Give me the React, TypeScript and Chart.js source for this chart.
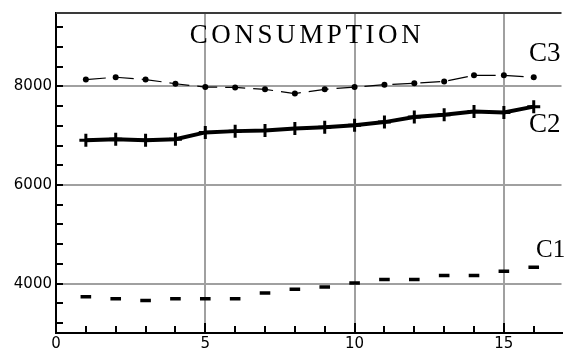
import React, { useEffect, useRef } from "react";
import { Chart, registerables } from "chart.js";

Chart.register(...registerables);

const xValues = [1, 2, 3, 4, 5, 6, 7, 8, 9, 10, 11, 12, 13, 14, 15, 16];
const c1Values = [3736, 3696, 3657, 3696, 3696, 3696, 3810, 3889, 3935, 4014, 4087, 4087, 4167, 4167, 4252, 4331];
const c2Values = [6909, 6929, 6909, 6929, 7067, 7093, 7107, 7147, 7173, 7212, 7276, 7379, 7425, 7490, 7470, 7589];
const c3Values = [8139, 8185, 8139, 8054, 7986, 7980, 7940, 7855, 7940, 7986, 8034, 8065, 8100, 8224, 8224, 8185];
const xTickValues = [0, 5, 10, 15];
const yTickValues = [4000, 6000, 8000];
const xMinorStep = 1;
const yMinorStep = 400;
const titleText = "CONSUMPTION";
const seriesNames = ["C1", "C2", "C3"];

const toPoints = (vals: number[]) => xValues.map((x, i) => ({ x, y: vals[i] }));

const decorPlugin = {
  id: "decor",
  beforeDatasetsDraw(chart: any) {
    const { ctx, chartArea, scales } = chart;
    const xs = scales.x;
    const ys = scales.y;
    ctx.save();
    ctx.strokeStyle = "#3a3a3a";
    ctx.lineWidth = 2;
    ctx.beginPath();
    ctx.moveTo(chartArea.left, chartArea.top);
    ctx.lineTo(chartArea.right, chartArea.top);
    ctx.stroke();
    ctx.strokeStyle = "#000";
    ctx.lineWidth = 2;
    ctx.beginPath();
    for (let v = xMinorStep; v <= xs.max; v += xMinorStep) {
      const px = Math.round(xs.getPixelForValue(v));
      const len = v % 5 === 0 ? 10 : 7;
      ctx.moveTo(px, chartArea.bottom);
      ctx.lineTo(px, chartArea.bottom - len);
    }
    for (let v = Math.ceil(ys.min / yMinorStep) * yMinorStep; v <= ys.max; v += yMinorStep) {
      if (v === ys.min) continue;
      const py = Math.round(ys.getPixelForValue(v));
      ctx.moveTo(chartArea.left, py);
      ctx.lineTo(chartArea.left + 7, py);
    }
    ctx.stroke();
    ctx.restore();
  },
  afterDraw(chart: any) {
    const { ctx } = chart;
    ctx.save();
    ctx.fillStyle = "#000";
    ctx.textBaseline = "alphabetic";
    ctx.font = "27px 'Liberation Serif'";
    (ctx as any).letterSpacing = "3.6px";
    ctx.textAlign = "center";
    ctx.fillText(titleText, 307, 43);
    (ctx as any).letterSpacing = "0px";
    ctx.textAlign = "left";
    ctx.fillText(seriesNames[2], 529, 61);
    ctx.fillText(seriesNames[1], 529, 132);
    ctx.font = "25px 'Liberation Serif'";
    ctx.fillText(seriesNames[0], 536, 257);
    ctx.restore();
  },
};

export default function App() {
  const canvasRef = useRef<HTMLCanvasElement | null>(null);

  useEffect(() => {
    if (!canvasRef.current) return;
    const chart = new Chart(canvasRef.current, {
      type: "scatter",
      data: {
        datasets: [
          {
            label: seriesNames[0],
            data: toPoints(c1Values),
            showLine: false,
            pointStyle: "line",
            pointRadius: 5.3,
            pointBorderWidth: 3.5,
            borderColor: "#000",
            backgroundColor: "#000",
          },
          {
            label: seriesNames[1],
            data: toPoints(c2Values),
            showLine: true,
            borderColor: "#000",
            borderWidth: 4,
            pointStyle: "cross",
            pointRadius: 6.5,
            pointBorderWidth: 3,
            pointBorderColor: "#000",
            backgroundColor: "#000",
          },
          {
            label: seriesNames[2],
            data: toPoints(c3Values),
            showLine: true,
            borderColor: "#000",
            borderWidth: 1.2,
            borderDash: [20, 8],
            pointStyle: "circle",
            pointRadius: 3,
            pointBorderWidth: 0,
            pointBackgroundColor: "#000",
            backgroundColor: "#000",
          },
        ],
      },
      options: {
        animation: false,
        responsive: false,
        devicePixelRatio: 1,
        layout: { padding: { top: 6, left: 0, right: 0, bottom: 0 } },
        plugins: { legend: { display: false }, tooltip: { enabled: false } },
        scales: {
          x: {
            type: "linear",
            min: 0,
            max: 16.93,
            afterBuildTicks: (s: any) => {
              s.ticks = xTickValues.map((v) => ({ value: v }));
            },
            afterFit: (s: any) => {
              s.height = 27;
            },
            grid: {
              color: (c: any) => (c.tick && c.tick.value === 0 ? "rgba(0,0,0,0)" : "#a0a0a0"),
              lineWidth: 2,
              drawTicks: false,
            },
            border: { color: "#000", width: 2 },
            ticks: {
              padding: 2,
              color: "#000",
              font: { family: "'DejaVu Sans'", size: 15 },
              maxRotation: 0,
              autoSkip: false,
              callback: (v: any) => String(v),
            },
          },
          y: {
            type: "linear",
            min: 3000,
            max: 9488,
            afterBuildTicks: (s: any) => {
              s.ticks = yTickValues.map((v) => ({ value: v }));
            },
            afterFit: (s: any) => {
              s.width = 56;
            },
            grid: { color: "#a0a0a0", lineWidth: 2, drawTicks: false },
            border: { color: "#000", width: 2 },
            ticks: {
              padding: 4,
              color: "#000",
              font: { family: "'DejaVu Sans'", size: 15 },
              autoSkip: false,
              callback: (v: any) => String(v),
            },
          },
        },
      },
      plugins: [decorPlugin],
    });
    return () => chart.destroy();
  }, []);

  return (
    <div style={{ position: "fixed", left: 0, top: 0, width: 571, height: 360, background: "#fff" }}>
      <canvas ref={canvasRef} width={571} height={360} style={{ display: "block" }} />
    </div>
  );
}
